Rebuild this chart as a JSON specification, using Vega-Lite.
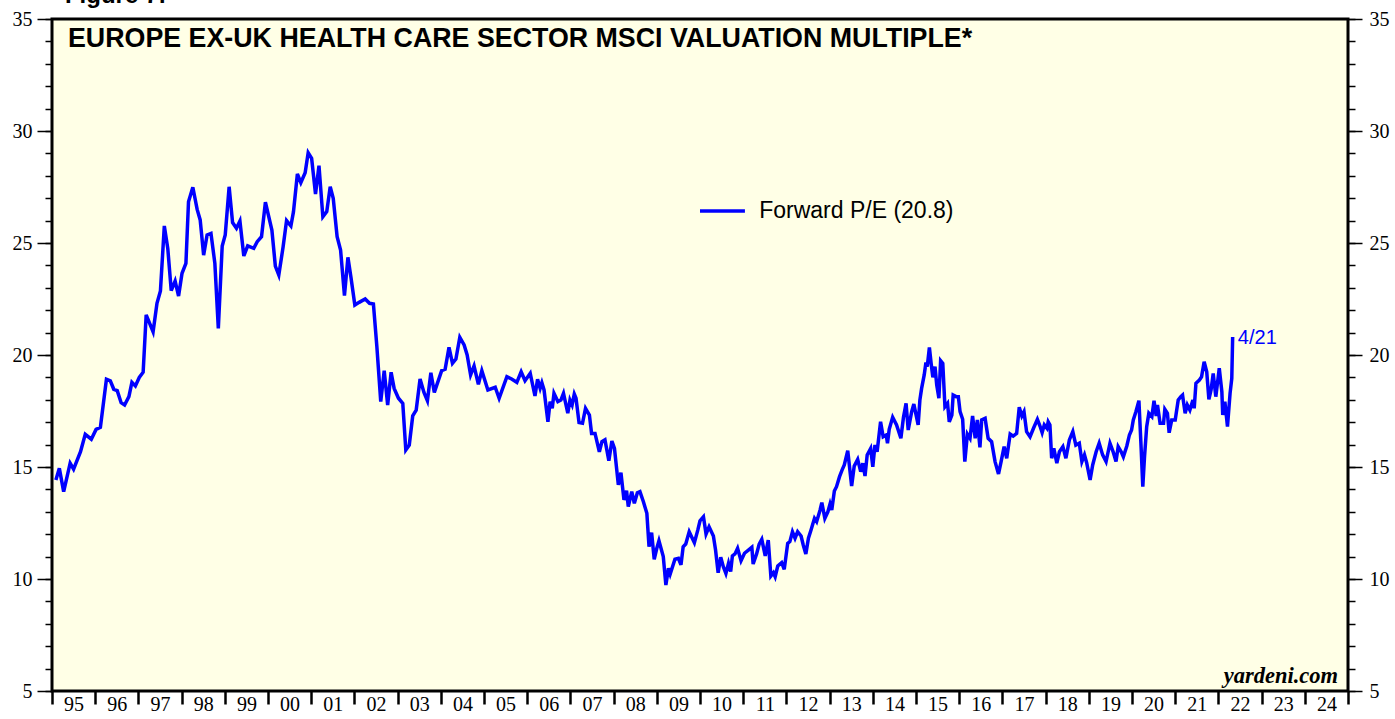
{
"$schema": "https://vega.github.io/schema/vega-lite/v6.json",
"width": 1296, "height": 672,
"autosize": {"type": "none"},
"padding": {"left": 52, "top": 19, "right": 47, "bottom": 28},
"background": "white",
"config": {"view": {"fill": "#FFFFE6", "stroke": "black", "strokeWidth": 3}},
"data": {"values": [
{"d":1995.09,"v":14.42},{"d":1995.17,"v":14.94},{"d":1995.27,"v":13.90},{"d":1995.42,"v":15.17},{"d":1995.50,"v":14.90},{"d":1995.66,"v":15.68},{"d":1995.77,"v":16.46},{"d":1995.91,"v":16.24},{"d":1996.02,"v":16.68},{"d":1996.12,"v":16.77},{"d":1996.26,"v":18.92},{"d":1996.35,"v":18.85},{"d":1996.43,"v":18.47},{"d":1996.51,"v":18.41},{"d":1996.60,"v":17.87},{"d":1996.68,"v":17.77},{"d":1996.78,"v":18.14},{"d":1996.85,"v":18.78},{"d":1996.93,"v":18.62},{"d":1997.02,"v":19.00},{"d":1997.11,"v":19.23},{"d":1997.18,"v":21.79},{"d":1997.34,"v":21.04},{"d":1997.43,"v":22.31},{"d":1997.51,"v":22.86},{"d":1997.60,"v":25.76},{"d":1997.68,"v":24.76},{"d":1997.76,"v":22.87},{"d":1997.85,"v":23.30},{"d":1997.93,"v":22.63},{"d":1998.01,"v":23.65},{"d":1998.10,"v":24.09},{"d":1998.16,"v":26.84},{"d":1998.26,"v":27.49},{"d":1998.36,"v":26.50},{"d":1998.43,"v":26.03},{"d":1998.51,"v":24.46},{"d":1998.59,"v":25.36},{"d":1998.68,"v":25.43},{"d":1998.77,"v":24.09},{"d":1998.85,"v":21.19},{"d":1998.94,"v":24.87},{"d":1999.01,"v":25.36},{"d":1999.10,"v":27.51},{"d":1999.18,"v":25.91},{"d":1999.27,"v":25.66},{"d":1999.35,"v":25.98},{"d":1999.44,"v":24.42},{"d":1999.53,"v":24.87},{"d":1999.67,"v":24.76},{"d":1999.75,"v":25.06},{"d":1999.85,"v":25.28},{"d":1999.94,"v":26.82},{"d":2000.09,"v":25.58},{"d":2000.17,"v":23.97},{"d":2000.25,"v":23.57},{"d":2000.35,"v":24.83},{"d":2000.43,"v":26.00},{"d":2000.53,"v":25.76},{"d":2000.59,"v":26.40},{"d":2000.68,"v":28.08},{"d":2000.76,"v":27.69},{"d":2000.86,"v":28.14},{"d":2000.93,"v":29.03},{"d":2001.01,"v":28.78},{"d":2001.10,"v":27.19},{"d":2001.18,"v":28.45},{"d":2001.27,"v":26.17},{"d":2001.36,"v":26.40},{"d":2001.44,"v":27.51},{"d":2001.51,"v":27.00},{"d":2001.60,"v":25.28},{"d":2001.68,"v":24.69},{"d":2001.77,"v":22.65},{"d":2001.85,"v":24.36},{"d":2001.92,"v":23.47},{"d":2002.01,"v":22.23},{"d":2002.11,"v":22.35},{"d":2002.25,"v":22.50},{"d":2002.35,"v":22.31},{"d":2002.44,"v":22.28},{"d":2002.52,"v":20.37},{"d":2002.61,"v":17.92},{"d":2002.69,"v":19.30},{"d":2002.77,"v":17.77},{"d":2002.85,"v":19.23},{"d":2002.92,"v":18.51},{"d":2003.02,"v":18.07},{"d":2003.12,"v":17.84},{"d":2003.19,"v":15.76},{"d":2003.27,"v":15.98},{"d":2003.35,"v":17.28},{"d":2003.43,"v":17.54},{"d":2003.52,"v":18.93},{"d":2003.61,"v":18.33},{"d":2003.69,"v":17.96},{"d":2003.77,"v":19.21},{"d":2003.85,"v":18.33},{"d":2004.02,"v":19.30},{"d":2004.10,"v":19.36},{"d":2004.19,"v":20.34},{"d":2004.27,"v":19.63},{"d":2004.35,"v":19.82},{"d":2004.44,"v":20.79},{"d":2004.54,"v":20.45},{"d":2004.61,"v":20.00},{"d":2004.69,"v":19.11},{"d":2004.77,"v":19.51},{"d":2004.87,"v":18.69},{"d":2004.95,"v":19.30},{"d":2005.09,"v":18.44},{"d":2005.26,"v":18.56},{"d":2005.35,"v":18.07},{"d":2005.53,"v":19.03},{"d":2005.64,"v":18.93},{"d":2005.76,"v":18.78},{"d":2005.86,"v":19.25},{"d":2005.95,"v":18.85},{"d":2006.07,"v":19.18},{"d":2006.18,"v":18.17},{"d":2006.24,"v":18.92},{"d":2006.30,"v":18.51},{"d":2006.34,"v":18.76},{"d":2006.39,"v":18.44},{"d":2006.48,"v":17.02},{"d":2006.53,"v":17.92},{"d":2006.58,"v":17.62},{"d":2006.62,"v":18.29},{"d":2006.71,"v":17.92},{"d":2006.78,"v":17.99},{"d":2006.84,"v":18.29},{"d":2006.94,"v":17.40},{"d":2006.99,"v":17.99},{"d":2007.04,"v":17.77},{"d":2007.09,"v":18.26},{"d":2007.13,"v":18.07},{"d":2007.20,"v":16.98},{"d":2007.28,"v":16.95},{"d":2007.35,"v":17.62},{"d":2007.44,"v":17.32},{"d":2007.49,"v":16.50},{"d":2007.57,"v":16.50},{"d":2007.67,"v":15.68},{"d":2007.73,"v":16.13},{"d":2007.80,"v":16.21},{"d":2007.89,"v":15.28},{"d":2007.96,"v":16.16},{"d":2008.02,"v":15.83},{"d":2008.11,"v":14.20},{"d":2008.17,"v":14.75},{"d":2008.24,"v":13.53},{"d":2008.30,"v":13.94},{"d":2008.34,"v":13.23},{"d":2008.42,"v":13.90},{"d":2008.48,"v":13.38},{"d":2008.55,"v":13.85},{"d":2008.61,"v":13.90},{"d":2008.69,"v":13.45},{"d":2008.77,"v":12.93},{"d":2008.82,"v":11.44},{"d":2008.88,"v":12.07},{"d":2008.94,"v":10.88},{"d":2009.00,"v":11.37},{"d":2009.05,"v":11.71},{"d":2009.15,"v":11.00},{"d":2009.21,"v":9.73},{"d":2009.27,"v":10.48},{"d":2009.31,"v":10.22},{"d":2009.42,"v":10.88},{"d":2009.50,"v":10.92},{"d":2009.56,"v":10.63},{"d":2009.61,"v":11.44},{"d":2009.67,"v":11.56},{"d":2009.75,"v":12.11},{"d":2009.81,"v":11.86},{"d":2009.87,"v":11.62},{"d":2009.95,"v":12.19},{"d":2010.00,"v":12.60},{"d":2010.08,"v":12.78},{"d":2010.14,"v":12.01},{"d":2010.21,"v":12.33},{"d":2010.31,"v":11.92},{"d":2010.36,"v":11.29},{"d":2010.42,"v":10.28},{"d":2010.48,"v":10.97},{"d":2010.54,"v":10.55},{"d":2010.60,"v":10.25},{"d":2010.66,"v":10.70},{"d":2010.71,"v":10.33},{"d":2010.75,"v":11.03},{"d":2010.81,"v":11.12},{"d":2010.87,"v":11.37},{"d":2010.95,"v":10.82},{"d":2011.03,"v":11.15},{"d":2011.12,"v":11.29},{"d":2011.20,"v":11.42},{"d":2011.23,"v":10.67},{"d":2011.31,"v":11.12},{"d":2011.37,"v":11.56},{"d":2011.43,"v":11.77},{"d":2011.51,"v":11.03},{"d":2011.58,"v":11.74},{"d":2011.64,"v":10.13},{"d":2011.70,"v":10.28},{"d":2011.74,"v":10.10},{"d":2011.80,"v":10.58},{"d":2011.89,"v":10.73},{"d":2011.95,"v":10.43},{"d":2012.03,"v":11.59},{"d":2012.08,"v":11.67},{"d":2012.14,"v":12.11},{"d":2012.20,"v":11.82},{"d":2012.26,"v":12.11},{"d":2012.34,"v":11.92},{"d":2012.39,"v":11.52},{"d":2012.45,"v":11.12},{"d":2012.51,"v":11.82},{"d":2012.57,"v":12.19},{"d":2012.65,"v":12.71},{"d":2012.70,"v":12.56},{"d":2012.78,"v":13.08},{"d":2012.82,"v":13.41},{"d":2012.89,"v":12.71},{"d":2012.96,"v":13.00},{"d":2013.01,"v":13.35},{"d":2013.05,"v":13.08},{"d":2013.11,"v":13.93},{"d":2013.16,"v":14.12},{"d":2013.23,"v":14.57},{"d":2013.29,"v":14.87},{"d":2013.34,"v":15.09},{"d":2013.42,"v":15.73},{"d":2013.51,"v":14.15},{"d":2013.57,"v":15.04},{"d":2013.65,"v":15.34},{"d":2013.72,"v":14.79},{"d":2013.77,"v":15.17},{"d":2013.82,"v":14.60},{"d":2013.87,"v":15.54},{"d":2013.95,"v":15.83},{"d":2014.00,"v":15.01},{"d":2014.05,"v":15.98},{"d":2014.10,"v":15.68},{"d":2014.18,"v":17.02},{"d":2014.24,"v":16.35},{"d":2014.31,"v":16.43},{"d":2014.34,"v":16.06},{"d":2014.38,"v":16.68},{"d":2014.46,"v":17.22},{"d":2014.55,"v":16.88},{"d":2014.65,"v":16.28},{"d":2014.71,"v":17.22},{"d":2014.77,"v":17.84},{"d":2014.82,"v":16.65},{"d":2014.90,"v":17.47},{"d":2014.95,"v":17.81},{"d":2015.05,"v":16.88},{"d":2015.09,"v":17.99},{"d":2015.13,"v":18.51},{"d":2015.19,"v":19.11},{"d":2015.23,"v":19.66},{"d":2015.26,"v":19.48},{"d":2015.31,"v":20.34},{"d":2015.35,"v":19.63},{"d":2015.39,"v":19.00},{"d":2015.44,"v":19.48},{"d":2015.48,"v":18.66},{"d":2015.53,"v":18.07},{"d":2015.57,"v":19.75},{"d":2015.62,"v":19.63},{"d":2015.67,"v":17.69},{"d":2015.73,"v":17.84},{"d":2015.77,"v":17.02},{"d":2015.83,"v":17.32},{"d":2015.86,"v":18.21},{"d":2015.93,"v":18.14},{"d":2015.98,"v":18.14},{"d":2016.02,"v":17.47},{"d":2016.08,"v":17.13},{"d":2016.13,"v":15.24},{"d":2016.19,"v":16.47},{"d":2016.25,"v":16.28},{"d":2016.31,"v":17.28},{"d":2016.37,"v":16.28},{"d":2016.42,"v":17.10},{"d":2016.48,"v":15.88},{"d":2016.52,"v":17.10},{"d":2016.60,"v":17.17},{"d":2016.67,"v":16.28},{"d":2016.75,"v":16.13},{"d":2016.83,"v":15.24},{"d":2016.91,"v":14.69},{"d":2016.97,"v":15.24},{"d":2017.04,"v":15.91},{"d":2017.10,"v":15.39},{"d":2017.18,"v":16.47},{"d":2017.25,"v":16.38},{"d":2017.33,"v":16.50},{"d":2017.39,"v":17.67},{"d":2017.45,"v":17.28},{"d":2017.50,"v":17.47},{"d":2017.56,"v":16.58},{"d":2017.64,"v":16.35},{"d":2017.72,"v":16.73},{"d":2017.81,"v":17.13},{"d":2017.87,"v":16.83},{"d":2017.92,"v":16.53},{"d":2017.97,"v":16.88},{"d":2018.03,"v":16.73},{"d":2018.06,"v":17.02},{"d":2018.10,"v":16.88},{"d":2018.14,"v":15.39},{"d":2018.19,"v":15.83},{"d":2018.26,"v":15.17},{"d":2018.32,"v":15.68},{"d":2018.40,"v":15.91},{"d":2018.47,"v":15.39},{"d":2018.55,"v":16.21},{"d":2018.63,"v":16.58},{"d":2018.70,"v":15.98},{"d":2018.78,"v":16.06},{"d":2018.84,"v":15.24},{"d":2018.90,"v":15.54},{"d":2018.95,"v":15.19},{"d":2019.03,"v":14.42},{"d":2019.09,"v":15.09},{"d":2019.17,"v":15.68},{"d":2019.24,"v":16.06},{"d":2019.32,"v":15.54},{"d":2019.40,"v":15.24},{"d":2019.49,"v":16.06},{"d":2019.57,"v":15.64},{"d":2019.63,"v":15.24},{"d":2019.68,"v":15.91},{"d":2019.75,"v":15.68},{"d":2019.80,"v":15.46},{"d":2019.88,"v":15.94},{"d":2019.94,"v":16.43},{"d":2019.99,"v":16.65},{"d":2020.03,"v":17.10},{"d":2020.09,"v":17.47},{"d":2020.16,"v":17.96},{"d":2020.21,"v":15.91},{"d":2020.25,"v":14.12},{"d":2020.29,"v":15.46},{"d":2020.34,"v":16.80},{"d":2020.39,"v":17.40},{"d":2020.46,"v":17.25},{"d":2020.51,"v":17.96},{"d":2020.56,"v":17.28},{"d":2020.59,"v":17.77},{"d":2020.65,"v":16.95},{"d":2020.73,"v":16.95},{"d":2020.76,"v":17.58},{"d":2020.82,"v":17.40},{"d":2020.86,"v":16.53},{"d":2020.92,"v":17.10},{"d":2021.00,"v":17.10},{"d":2021.07,"v":17.99},{"d":2021.13,"v":18.14},{"d":2021.17,"v":18.21},{"d":2021.23,"v":17.40},{"d":2021.28,"v":17.77},{"d":2021.34,"v":17.54},{"d":2021.41,"v":17.99},{"d":2021.44,"v":17.62},{"d":2021.48,"v":18.74},{"d":2021.56,"v":18.88},{"d":2021.61,"v":19.03},{"d":2021.67,"v":19.70},{"d":2021.73,"v":19.25},{"d":2021.78,"v":18.02},{"d":2021.83,"v":18.44},{"d":2021.88,"v":19.18},{"d":2021.94,"v":18.14},{"d":2022.02,"v":19.41},{"d":2022.08,"v":18.36},{"d":2022.10,"v":17.32},{"d":2022.15,"v":17.92},{"d":2022.21,"v":16.80},{"d":2022.27,"v":18.29},{"d":2022.31,"v":18.96},{"d":2022.33,"v":20.80}
]},
"encoding": {
  "x": {"field": "d", "type": "quantitative", "scale": {"domain": [1995, 2025], "nice": false, "zero": false}, "axis": null}
},
"layer": [
  {"mark": {"type": "line", "strokeOpacity": 0},
   "encoding": {"y": {"field": "v", "type": "quantitative", "scale": {"domain": [5, 35], "nice": false, "zero": false},
     "axis": {"orient": "left", "title": null, "domain": false, "grid": false, "values": [5,6,7,8,9,10,11,12,13,14,15,16,17,18,19,20,21,22,23,24,25,26,27,28,29,30,31,32,33,34,35],
       "tickSize": 7, "tickWidth": 1.5, "tickColor": "black", "labels": false}}}},
  {"mark": {"type": "line", "strokeOpacity": 0},
   "encoding": {"y": {"field": "v", "type": "quantitative",
     "axis": {"orient": "right", "title": null, "domain": false, "grid": false, "values": [5,6,7,8,9,10,11,12,13,14,15,16,17,18,19,20,21,22,23,24,25,26,27,28,29,30,31,32,33,34,35],
       "tickSize": 7, "tickWidth": 1.5, "tickColor": "black", "labels": false}}}},
  {"mark": {"type": "line", "strokeOpacity": 0},
   "encoding": {"y": {"field": "v", "type": "quantitative",
     "axis": {"orient": "right", "title": null, "domain": false, "grid": false, "values": [5,10,15,20,25,30,35],
       "tickSize": 14, "tickWidth": 1.5, "tickColor": "black", "labelPadding": 7,
       "labelFont": "Liberation Serif", "labelFontSize": 20, "labelColor": "black", "labelFlush": false, "labelOverlap": false}}}},
  {"mark": {"type": "line", "color": "#0000FF", "strokeWidth": 3.5},
   "encoding": {
     "x": {"field": "d", "type": "quantitative",
       "axis": {"orient": "bottom", "title": null, "domain": false, "grid": false,
         "values": [1995,1996,1997,1998,1999,2000,2001,2002,2003,2004,2005,2006,2007,2008,2009,2010,2011,2012,2013,2014,2015,2016,2017,2018,2019,2020,2021,2022,2023,2024,2025],
         "tickSize": 13, "tickWidth": 2.5, "tickColor": "black",
         "labelExpr": "datum.value >= 2025 ? '' : format(datum.value % 100, '02d')",
         "labelOffset": 21.6, "labelFont": "Liberation Serif", "labelFontSize": 20, "labelColor": "black",
         "labelPadding": -10, "labelBaseline": "top", "labelFlush": false, "labelOverlap": false, "labelBound": false}},
     "y": {"field": "v", "type": "quantitative",
     "axis": {"orient": "left", "title": null, "domain": false, "grid": false, "values": [5,10,15,20,25,30,35],
       "tickSize": 15, "tickWidth": 1.5, "tickColor": "black", "labelPadding": 5,
       "labelFont": "Liberation Serif", "labelFontSize": 20, "labelColor": "black", "labelFlush": false, "labelOverlap": false}}}},
  {"mark": {"type": "rule", "color": "#0000FF", "strokeWidth": 3.5},
   "encoding": {"x": {"datum": 2010.0, "type": "quantitative", "axis": null}, "x2": {"datum": 2011.04},
     "y": {"datum": 26.43, "type": "quantitative", "axis": null},
     "strokeOpacity": {"condition": {"test": "datum.d == 2022.33", "value": 1}, "value": 0}}},
  {"mark": {"type": "text", "font": "Liberation Sans", "fontSize": 23, "align": "left", "baseline": "middle", "color": "black"},
   "encoding": {"text": {"condition": {"test": "datum.d == 2022.33", "value": "Forward P/E (20.8)"}, "value": ""},
     "x": {"datum": 2011.37, "type": "quantitative", "axis": null}, "y": {"datum": 26.43, "type": "quantitative", "axis": null}}},
  {"mark": {"type": "text", "font": "Liberation Sans", "fontSize": 20, "align": "left", "baseline": "middle", "color": "#0000FF"},
   "encoding": {"text": {"condition": {"test": "datum.d == 2022.33", "value": "4/21"}, "value": ""},
     "x": {"datum": 2022.45, "type": "quantitative", "axis": null}, "y": {"datum": 20.75, "type": "quantitative", "axis": null}}},
  {"mark": {"type": "text", "font": "Liberation Sans", "fontWeight": "bold", "fontSize": 26.8, "align": "left", "baseline": "alphabetic", "color": "black"},
   "encoding": {"text": {"condition": {"test": "datum.d == 2022.33", "value": "EUROPE EX-UK HEALTH CARE SECTOR MSCI VALUATION MULTIPLE*"}, "value": ""},
     "x": {"datum": 1995.37, "type": "quantitative", "axis": null}, "y": {"datum": 33.75, "type": "quantitative", "axis": null}}},
  {"mark": {"type": "text", "font": "Liberation Sans", "fontWeight": "bold", "fontSize": 24, "align": "left", "baseline": "alphabetic", "color": "black"},
   "encoding": {"text": {"condition": {"test": "datum.d == 2022.33", "value": "Figure 7:"}, "value": ""},
     "x": {"datum": 1995.30, "type": "quantitative", "axis": null}, "y": {"datum": 35.71, "type": "quantitative", "axis": null}}},
  {"mark": {"type": "text", "font": "Liberation Serif", "fontWeight": "bold", "fontStyle": "italic", "fontSize": 22.5, "align": "right", "baseline": "alphabetic", "color": "black"},
   "encoding": {"text": {"condition": {"test": "datum.d == 2022.33", "value": "yardeni.com"}, "value": ""},
     "x": {"datum": 2024.77, "type": "quantitative", "axis": null}, "y": {"datum": 5.36, "type": "quantitative", "axis": null}}}
],
"resolve": {"axis": {"x": "independent", "y": "independent"}}
}
